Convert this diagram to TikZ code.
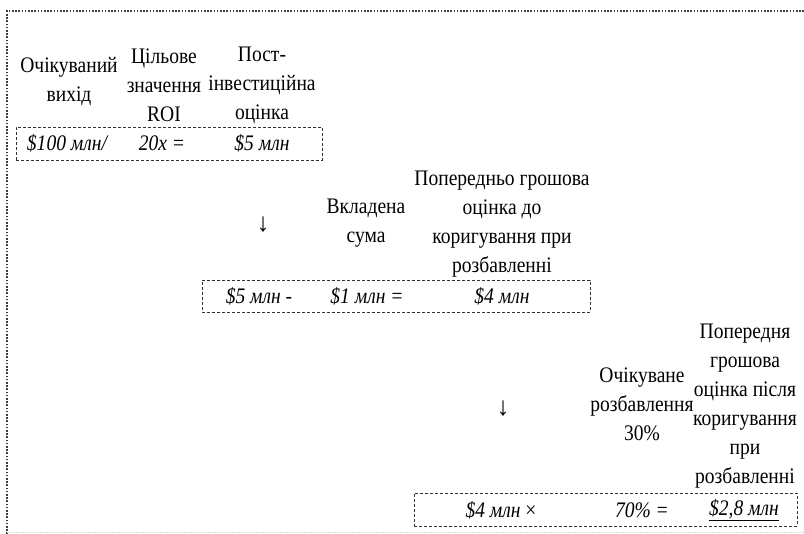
\documentclass[tikz,border=0pt]{standalone}
\usepackage{fontspec}
\setmainfont{Liberation Serif}[FakeStretch=0.88]
\newfontfamily\arrfont{Liberation Serif}
\begin{document}
\begin{tikzpicture}[x=1pt,y=-1pt,
  lbl/.style={inner sep=0pt, align=center, font=\fontsize{22.2}{29}\selectfont},
  val/.style={inner sep=0pt, font=\fontsize{22.2}{29}\selectfont\itshape},
  arr/.style={inner sep=0pt, font=\arrfont\fontsize{26}{29}\selectfont},
  dbox/.style={draw=black!80, dash pattern=on 3pt off 2pt, line width=0.9pt, inner sep=0pt, fill=none},
  frame/.style={draw=black!75, line width=1.6pt, dash pattern=on 1.6pt off 1.6pt}
]
\useasboundingbox (0,0) rectangle (804,534);
% outer dotted frame
\coordinate (fTL) at (7,11);
\coordinate (fTR) at (804,11);
\coordinate (fBL) at (7,534);
\coordinate (gL) at (7,532);
\coordinate (gR) at (804,532);
\draw[frame] (fTR) -- (fTL) -- (fBL);
\draw[black!15, line width=0.8pt, dash pattern=on 1.5pt off 1.5pt] (gL) -- (gR);

% row 1
\node[lbl] (h1) at (69,81.5) {Очікуваний\\вихід};
\node[lbl] (h2) at (164,85) {Цільове\\значення\\ROI};
\node[lbl] (h3) at (262,85) {Пост-\\інвестиційна\\оцінка};
\node[dbox, minimum width=306pt, minimum height=33pt] (b1) at (169,143.5) {};
\node[val] (v1) at (67,143) {\$100 млн/};
\node[val] (v2) at (162,143) {20x =};
\node[val] (v3) at (262,143) {\$5 млн};

% row 2
\node[arr] (a1) at (263,225) {↓};
\node[lbl] (h4) at (366,223) {Вкладена\\сума};
\node[lbl] (h5) at (502,224.5) {Попередньо грошова\\оцінка до\\коригування при\\розбавленні};
\node[dbox, minimum width=388pt, minimum height=32pt] (b2) at (396,296) {};
\node[val] (v4) at (259,296) {\$5 млн -};
\node[val] (v5) at (367,296) {\$1 млн =};
\node[val] (v6) at (502,296) {\$4 млн};

% row 3
\node[arr] (a2) at (503,409) {↓};
\node[lbl] (h6) at (642,404.5) {Очікуване\\розбавлення\\30\%};
\node[lbl] (h7) at (745,406.5) {Попередня\\грошова\\оцінка після\\коригування\\при\\розбавленні};
\node[dbox, minimum width=383pt, minimum height=33pt] (b3) at (605.5,509.5) {};
\node[val] (v7) at (501,510) {\$4 млн \upshape×};
\node[val] (v8) at (642,510) {70\% =};
\node[val] (v9) at (744,510) {\underline{\$2,8 млн}};
\end{tikzpicture}
\end{document}
